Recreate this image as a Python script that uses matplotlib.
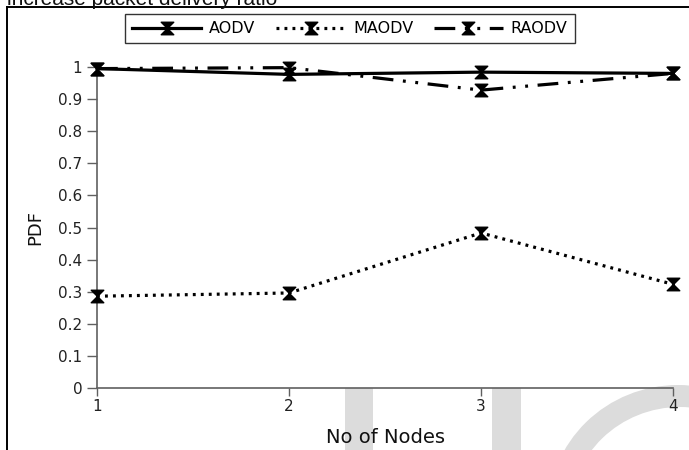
import matplotlib
matplotlib.use("Agg")
import matplotlib.pyplot as plt
from matplotlib.path import Path
from matplotlib.lines import Line2D
from matplotlib.patches import Rectangle, Ellipse

nodes = [1, 2, 3, 4]
aodv = [0.995, 0.977, 0.984, 0.980]
maodv = [0.286, 0.296, 0.483, 0.323]
raodv = [0.995, 0.998, 0.928, 0.980]
series_names = ["AODV", "MAODV", "RAODV"]
yticks = [0, 0.1, 0.2, 0.3, 0.4, 0.5, 0.6, 0.7, 0.8, 0.9, 1]
ytick_labels = ["0", "0.1", "0.2", "0.3", "0.4", "0.5", "0.6", "0.7", "0.8", "0.9", "1"]

W, H = 689, 450
fig = plt.figure(figsize=(W / 100, H / 100), dpi=100)

# watermark (background)
wm = "#dcdcdc"
fig.patches.append(Rectangle((345 / W, 0), 28 / W, (H - 388) / H, transform=fig.transFigure,
                             facecolor=wm, edgecolor="none", zorder=-5))
fig.patches.append(Rectangle((492 / W, 0), 29 / W, (H - 388) / H, transform=fig.transFigure,
                             facecolor=wm, edgecolor="none", zorder=-5))
fig.patches.append(Ellipse((678 / W, (H - 512) / H), 2 * 130 / W, 2 * 127 / H,
                           transform=fig.transFigure, facecolor=wm, edgecolor="none", zorder=-5))
fig.patches.append(Ellipse((680 / W, (H - 514) / H), 2 * 110 / W, 2 * 107 / H,
                           transform=fig.transFigure, facecolor="white", edgecolor="none", zorder=-4))

# page frame
fig.add_artist(Line2D([7 / W, 7 / W], [0, 1 - 7 / H], transform=fig.transFigure, color="black", lw=1.4))
fig.add_artist(Line2D([7 / W, 1.0], [1 - 7 / H, 1 - 7 / H], transform=fig.transFigure, color="black", lw=1.4))

# header text from document (clipped at the top as in the source page)
fig.text(7 / W, 1 - 5 / H, "increase packet delivery ratio", family="Liberation Sans",
         fontsize=15, va="baseline", ha="left", color="#111111")

ax = fig.add_axes([97 / W, (H - 388) / H, (673 - 97) / W, (388 - 67) / H])
ax.patch.set_alpha(0)

hourglass = Path([(-1, 1), (1, 1), (0, 0), (-1, 1), (-1, -1), (1, -1), (0, 0), (-1, -1)],
                 [Path.MOVETO, Path.LINETO, Path.LINETO, Path.CLOSEPOLY,
                  Path.MOVETO, Path.LINETO, Path.LINETO, Path.CLOSEPOLY])

mk = dict(marker=hourglass, markersize=9, markerfacecolor="black", markeredgecolor="black",
          markeredgewidth=1.0, color="black", clip_on=False)
ax.plot(nodes, aodv, lw=2.3, linestyle="-", label=series_names[0], zorder=4, **mk)
ax.plot(nodes, maodv, lw=2.3, linestyle=(0, (0.9, 1.6)), label=series_names[1], zorder=3, **mk)
ax.plot(nodes, raodv, lw=2.3, linestyle=(0, (6.5, 3.0, 0.9, 3.0, 0.9, 3.0)),
        label=series_names[2], zorder=3, **mk)

ax.set_xlim(1, 4)
ax.set_ylim(0, 1)
ax.set_xticks(nodes)
ax.set_xticklabels([str(n) for n in nodes])
ax.set_yticks(yticks)
ax.set_yticklabels(ytick_labels)
for s in ["top", "right"]:
    ax.spines[s].set_visible(False)
for s in ["left", "bottom"]:
    ax.spines[s].set_color("#606060")
    ax.spines[s].set_linewidth(1.2)
ax.tick_params(axis="both", direction="out", length=7, width=1.0, color="#606060",
               labelsize=11, labelcolor="#222222", pad=3.5)
ax.tick_params(axis="x", length=6, pad=2)
ax.set_xlabel("No of Nodes", fontsize=14, color="#111111", labelpad=10)
ax.set_ylabel("PDF", fontsize=13, color="#111111", labelpad=10)

leg = fig.legend(loc="upper center", bbox_to_anchor=(350 / W, 1 - 14 / H), ncol=3,
                 fontsize=11.5, frameon=True, fancybox=False, edgecolor="black",
                 handlelength=4.3, handletextpad=0.5, columnspacing=1.3,
                 borderpad=0.45, borderaxespad=0)
leg.get_frame().set_linewidth(1.0)

fig.savefig("out.png", dpi=100)
